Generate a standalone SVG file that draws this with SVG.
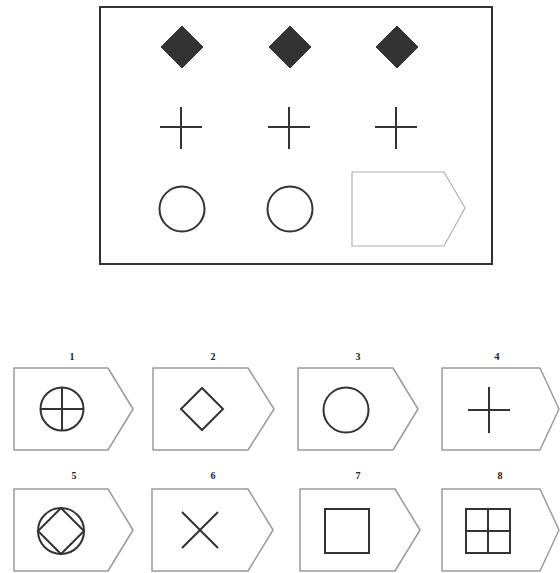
<svg xmlns="http://www.w3.org/2000/svg" width="560" height="573" viewBox="0 0 560 573">
<style>
.frame{fill:none;stroke:#333;stroke-width:2}
.box{fill:#fff;stroke:#9a9a9a;stroke-width:1.5;stroke-linejoin:round}
.blank{fill:#fff;stroke:#b0b0b0;stroke-width:1.2}
.sh{fill:none;stroke:#333;stroke-width:2}
.fill{fill:#333;stroke:#333;stroke-width:1}
.lbl{font-family:"Liberation Serif",serif;font-size:10px;font-weight:bold;fill:#222;text-anchor:middle}
</style>
<rect width="560" height="573" fill="#fff"/>
<g id="matrix">
<rect class="frame" x="100" y="7" width="392" height="257"/>
<g id="r1c1"><polygon class="fill" points="182,26 203,47 182,68 161,47"/></g>
<g id="r1c2"><polygon class="fill" points="290,26 311,47 290,68 269,47"/></g>
<g id="r1c3"><polygon class="fill" points="397,26 418,47 397,68 376,47"/></g>
<g id="r2c1"><path class="sh" d="M160,127H202M181,107V149"/></g>
<g id="r2c2"><path class="sh" d="M268,127H310M289,107V149"/></g>
<g id="r2c3"><path class="sh" d="M375,127H417M396,107V149"/></g>
<g id="r3c1"><circle class="sh" cx="182" cy="209" r="22.5"/></g>
<g id="r3c2"><circle class="sh" cx="290" cy="209" r="22.5"/></g>
<g id="r3c3"><polygon class="blank" points="352,172 444,172 465,208 444,246 352,246"/></g>
</g>
<g id="opt1">
<text class="lbl" x="72" y="360">1</text>
<polygon class="box" points="14,368 108,368 133,409 108,450 14,450"/>
<circle class="sh" cx="62" cy="409" r="21.5"/>
<path class="sh" d="M40.5,409H83.5M62,387.5V430.5"/>
</g>
<g id="opt2">
<text class="lbl" x="213" y="360">2</text>
<polygon class="box" points="153,368 248,368 274,409 248,450 153,450"/>
<polygon class="sh" points="202,388 223,409 202,430 181,409"/>
</g>
<g id="opt3">
<text class="lbl" x="358" y="360">3</text>
<polygon class="box" points="298,368 393,368 418,409 393,450 298,450"/>
<circle class="sh" cx="346" cy="410" r="22.5"/>
</g>
<g id="opt4">
<text class="lbl" x="497" y="360">4</text>
<polygon class="box" points="442,368 540,368 559,409 540,450 442,450"/>
<path class="sh" d="M468,410H510M489,387V433"/>
</g>
<g id="opt5">
<text class="lbl" x="74" y="479">5</text>
<polygon class="box" points="14,489 108,489 133,530 108,571 14,571"/>
<circle class="sh" cx="61" cy="531" r="23"/>
<polygon class="sh" points="61,508 84,531 61,554 38,531"/>
</g>
<g id="opt6">
<text class="lbl" x="213" y="479">6</text>
<polygon class="box" points="152,489 248,489 273,530 248,571 152,571"/>
<path class="sh" d="M182,512L218,548M218,512L182,548"/>
</g>
<g id="opt7">
<text class="lbl" x="358" y="479">7</text>
<polygon class="box" points="300,489 395,489 420,530 395,571 300,571"/>
<rect class="sh" x="325" y="509" width="44" height="44"/>
</g>
<g id="opt8">
<text class="lbl" x="500" y="479">8</text>
<polygon class="box" points="442,489 540,489 559,530 540,571 442,571"/>
<rect class="sh" x="466" y="509" width="44" height="44"/>
<path class="sh" d="M466,531H510M488,509V553"/>
</g>
</svg>
